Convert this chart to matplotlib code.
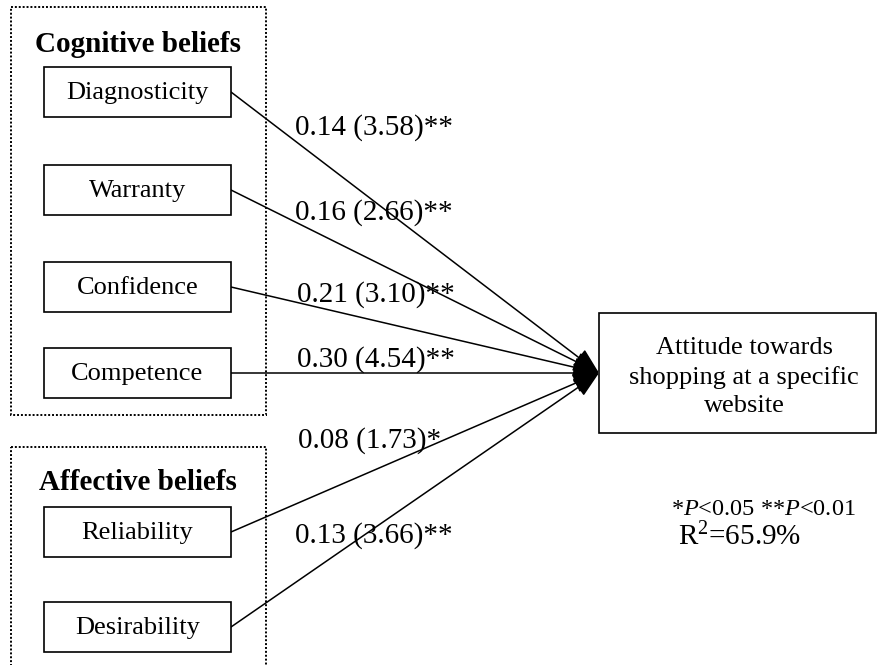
import matplotlib
matplotlib.use('Agg')
import matplotlib.pyplot as plt
from matplotlib.patches import Rectangle, FancyArrowPatch

plt.rcParams['font.family'] = ['Liberation Serif', 'DejaVu Serif']
plt.rcParams['mathtext.fontset'] = 'custom'
plt.rcParams['mathtext.rm'] = 'Liberation Serif'
plt.rcParams['mathtext.it'] = 'Liberation Serif:italic'

# Path model data
predictors = ['Diagnosticity', 'Warranty', 'Confidence', 'Competence', 'Reliability', 'Desirability']
coefs = ['0.14', '0.16', '0.21', '0.30', '0.08', '0.13']
t_values = ['3.58', '2.66', '3.10', '4.54', '1.73', '3.66']
stars = ['**', '**', '**', '**', '*', '**']
groups = ['Cognitive beliefs', 'Affective beliefs']
outcome = 'Attitude towards\nshopping at a specific\nwebsite'
r_squared = '65.9%'

# Layout (pixels, y downwards)
box_tops = [67, 165, 262, 348, 507, 602]
box_x, box_w, box_h = 44, 187, 50
label_pos = [(295, 135), (295, 220), (297, 302), (297, 367), (298, 448), (295, 543)]
tip = (599, 373)

fig = plt.figure(figsize=(8.77, 6.65), dpi=100)
ax = fig.add_axes([0, 0, 1, 1])
ax.set_xlim(0, 877)
ax.set_ylim(665, 0)
ax.axis('off')

# dotted group frames
ax.add_patch(Rectangle((11, 7), 255, 408, fill=False, ls=(0, (1, 1)), lw=1.4, color='black'))
ax.add_patch(Rectangle((11, 447), 255, 240, fill=False, ls=(0, (1, 1)), lw=1.4, color='black'))
ax.text(138, 44, groups[0], ha='center', va='center', fontsize=21, fontweight='bold')
ax.text(138, 483, groups[1], ha='center', va='center', fontsize=21, fontweight='bold')

for name, top, coef, t, s, (lx, ly) in zip(predictors, box_tops, coefs, t_values, stars, label_pos):
    ax.add_patch(Rectangle((box_x, top), box_w, box_h, fill=True, facecolor='white',
                           edgecolor='black', lw=1.2, zorder=3))
    ax.text(box_x + box_w / 2, top + box_h / 2 + 1, name, ha='center', va='center',
            fontsize=19, zorder=4)
    start = (box_x + box_w, top + box_h / 2)
    arr = FancyArrowPatch(start, tip, arrowstyle='-|>,head_length=0.9,head_width=0.35',
                          mutation_scale=18, lw=1.1, color='black', shrinkA=0, shrinkB=0)
    ax.add_patch(arr)
    ax.text(lx, ly, f'{coef} ({t}){s}', ha='left', va='baseline', fontsize=21)

# outcome box
ax.add_patch(Rectangle((599, 313), 277, 120, fill=False, edgecolor='black', lw=1.2))
ax.text(744, 377, outcome, ha='center', va='center', fontsize=19, linespacing=1.4)

ax.text(763, 515, r'*$\it{P}$<0.05 **$\it{P}$<0.01', ha='center', va='baseline', fontsize=17.5)
ax.text(740, 545, 'R$^{2}$=' + r_squared, ha='center', va='baseline', fontsize=21)

fig.savefig('out.png', dpi=100)
